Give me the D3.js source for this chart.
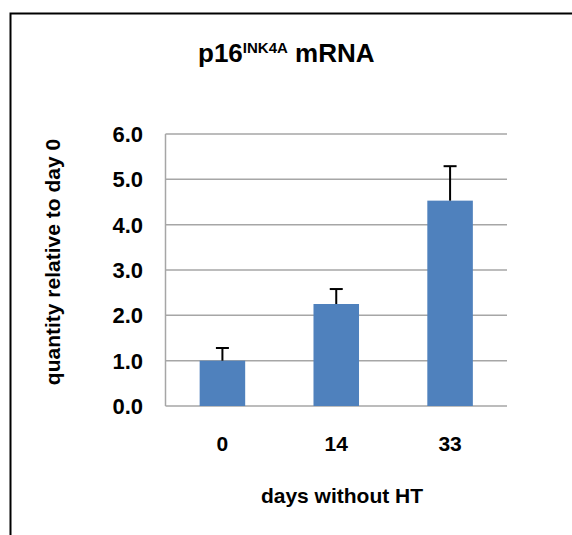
<!DOCTYPE html>
<html>
<head>
<meta charset="utf-8">
<script src="https://cdn.jsdelivr.net/npm/d3@7"></script>
<style>
  html, body { margin: 0; padding: 0; background: #fff; }
  svg { display: block; }
  text { font-family: "Liberation Sans", Arial, sans-serif; font-weight: bold; fill: #000; }
</style>
</head>
<body>
<svg id="chart" width="572" height="535"></svg>
<script>
// ---- data ----
const categories = ["0", "14", "33"];
const values = [1.0, 2.25, 4.53];
const errors = [0.28, 0.33, 0.76];
const yTicks = [0, 1, 2, 3, 4, 5, 6];
const titleMain = "p16";
const titleSup = "INK4A";
const titleRest = " mRNA";
const yLabel = "quantity relative to day 0";
const xLabel = "days without HT";

const svg = d3.select("#chart");

// frame
svg.append("rect")
  .attr("x", 10.5).attr("y", 13.5)
  .attr("width", 700).attr("height", 700)
  .attr("fill", "none").attr("stroke", "#000").attr("stroke-width", 2);

const plot = { left: 165.5, right: 507, top: 134, bottom: 406 };

const x = d3.scaleBand().domain(categories)
  .range([plot.left, plot.right]).paddingInner(0.6).paddingOuter(0.3);
const y = d3.scaleLinear().domain([0, 6]).range([plot.bottom, plot.top]);

// gridlines
svg.append("g").selectAll("line").data(yTicks.filter(d => d > 0)).join("line")
  .attr("x1", plot.left).attr("x2", plot.right)
  .attr("y1", d => y(d)).attr("y2", d => y(d))
  .attr("stroke", "#a6a6a6").attr("stroke-width", 1.5);

// axes lines
svg.append("line").attr("x1", plot.left).attr("x2", plot.left)
  .attr("y1", plot.top).attr("y2", plot.bottom)
  .attr("stroke", "#a6a6a6").attr("stroke-width", 1.5);
svg.append("line").attr("x1", plot.left).attr("x2", plot.right)
  .attr("y1", plot.bottom).attr("y2", plot.bottom)
  .attr("stroke", "#a6a6a6").attr("stroke-width", 1.5);

// y tick labels
svg.append("g").selectAll("text").data(yTicks).join("text")
  .attr("x", 143).attr("y", d => y(d)).attr("dy", "0.36em")
  .attr("text-anchor", "end").style("font-size", "22px")
  .text(d3.format(".1f"));

// bars
svg.append("g").selectAll("rect").data(values).join("rect")
  .attr("x", (d, i) => x(categories[i]))
  .attr("width", x.bandwidth())
  .attr("y", d => y(d))
  .attr("height", d => y(0) - y(d))
  .attr("fill", "#4f81bd");

// error bars
const eg = svg.append("g").attr("stroke", "#000").attr("stroke-width", 2);
values.forEach((v, i) => {
  const cx = x(categories[i]) + x.bandwidth() / 2;
  eg.append("line").attr("x1", cx).attr("x2", cx)
    .attr("y1", y(v)).attr("y2", y(v + errors[i]));
  eg.append("line").attr("x1", cx - 6.5).attr("x2", cx + 6.5)
    .attr("y1", y(v + errors[i])).attr("y2", y(v + errors[i]));
});

// x tick labels
svg.append("g").selectAll("text").data(categories).join("text")
  .attr("x", d => x(d) + x.bandwidth() / 2).attr("y", 451)
  .attr("text-anchor", "middle").style("font-size", "21px")
  .text(d => d);

// x axis title
svg.append("text").attr("x", 342).attr("y", 503)
  .attr("text-anchor", "middle").style("font-size", "21px").text(xLabel);

// y axis title
svg.append("text")
  .attr("transform", "translate(60,262) rotate(-90)")
  .attr("text-anchor", "middle").style("font-size", "21px").text(yLabel);

// title
const t = svg.append("text").attr("x", 198).attr("y", 62).style("font-size", "26px");
t.append("tspan").text(titleMain);
t.append("tspan").attr("dy", -9).style("font-size", "15px").text(titleSup);
t.append("tspan").attr("dy", 9).text(titleRest);
</script>
</body>
</html>
